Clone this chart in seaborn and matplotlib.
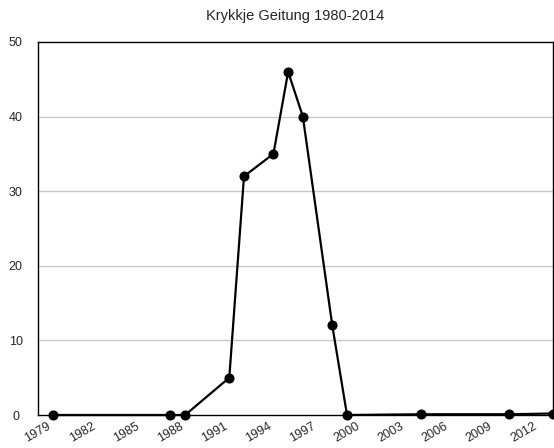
import matplotlib
matplotlib.use("Agg")
import matplotlib.pyplot as plt
import seaborn as sns
import pandas as pd

years = [1980, 1988, 1989, 1992, 1993, 1995, 1996, 1997, 1999, 2000, 2005, 2011, 2014]
counts = [0, 0, 0, 5, 32, 35, 46, 40, 12, 0, 0.1, 0.1, 0.2]
tick_years = list(range(1979, 2013, 3))
title = "Krykkje Geitung 1980-2014"

sns.set_theme(style="white")
plt.rcParams['font.family'] = ['Liberation Sans', 'DejaVu Sans']

df = pd.DataFrame({"year": years, "count": counts})

fig = plt.figure(figsize=(5.54, 4.48), dpi=100)
ax = fig.add_axes([38/554, 1-415/448, (553-38)/554, (415-42)/448])

for yv in [10, 20, 30, 40]:
    ax.axhline(yv, color="#c8c8c8", lw=1.0, zorder=0)

sns.lineplot(data=df, x="year", y="count", ax=ax, color="black", lw=1.6,
             marker="o", markersize=6.5, markeredgecolor="black",
             markerfacecolor="black", clip_on=False, zorder=3)

ax.set_xlim(1979, 2014)
ax.set_ylim(0, 50)
ax.set_yticks([0, 10, 20, 30, 40, 50])
ax.set_xticks(tick_years)
ax.set_xticklabels([str(t) for t in tick_years], rotation=30, ha="center",
                   fontsize=9)
ax.tick_params(axis="x", length=0, pad=4)
ax.tick_params(axis="y", length=0, labelsize=9)
for lab in ax.get_yticklabels():
    lab.set_horizontalalignment("center")
ax.tick_params(axis="y", pad=16)
ax.set_xlabel("")
ax.set_ylabel("")
for s in ax.spines.values():
    s.set_color("black")
    s.set_linewidth(1.0)
ax.grid(False)
ax.set_title(title, fontsize=10.5, pad=16)

fig.savefig("out.png", dpi=100)
